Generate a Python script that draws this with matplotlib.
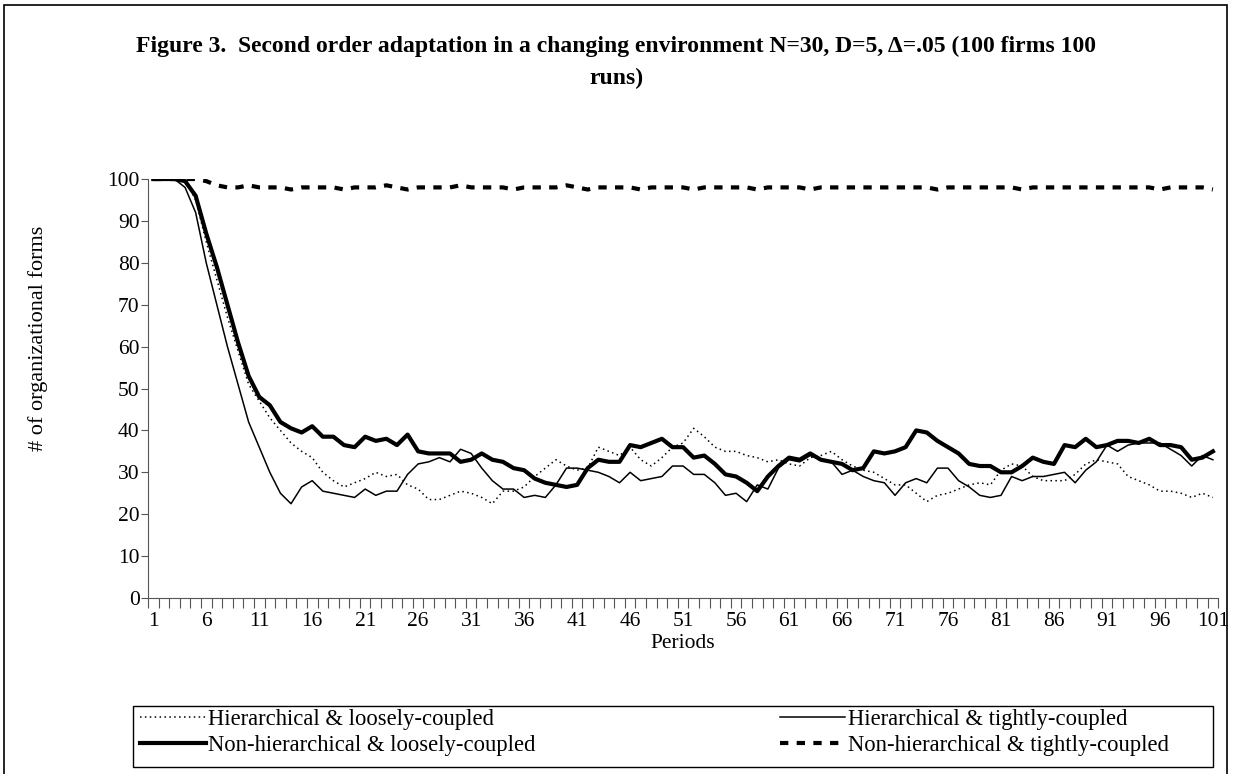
import numpy as np
import matplotlib.pyplot as plt
from matplotlib.patches import Rectangle

plt.rcParams['font.family'] = ['Liberation Serif', 'DejaVu Serif']

periods = np.arange(1, 102)

hier_loose = [100, 100, 100, 100, 95, 85, 76, 67, 59, 51,
              47, 43, 40, 37, 35, 33.5, 30, 28, 26.5, 27.5,
              28.5, 30, 29, 29.5, 27, 26, 23.5, 23.5, 24.5, 25.5,
              25, 24, 22.5, 25.5, 25.5, 26.5, 29, 31, 33, 31.5,
              30.5, 31, 36, 35, 34, 36, 33, 31.5, 33.5, 36,
              37, 40.5, 38.5, 36, 35, 35, 34, 33.5, 32.5, 33,
              32, 31.5, 33.5, 34, 35, 33, 31.5, 30.5, 30, 28.5,
              27, 27, 25, 23, 24.5, 25, 26, 27, 27.5, 27,
              30.5, 32, 31.5, 29, 28, 28, 28, 29.5, 32, 33,
              32.5, 32, 29, 28, 27, 25.5, 25.5, 25, 24, 25,
              24]

hier_tight = [100, 100, 100, 98, 92, 80, 70, 60, 51, 42,
              36, 30, 25, 22.5, 26.5, 28, 25.5, 25, 24.5, 24,
              26, 24.5, 25.5, 25.5, 29.5, 32, 32.5, 33.5, 32.5, 35.5,
              34.5, 31, 28, 26, 26, 24, 24.5, 24, 27, 31,
              31, 30.5, 30, 29, 27.5, 30, 28, 28.5, 29, 31.5,
              31.5, 29.5, 29.5, 27.5, 24.5, 25, 23, 27, 26, 31,
              33, 32.5, 34, 33, 32.5, 29.5, 30.5, 29, 28, 27.5,
              24.5, 27.5, 28.5, 27.5, 31, 31, 28, 26.5, 24.5, 24,
              24.5, 29, 28, 29, 29, 29.5, 30, 27.5, 30.5, 32.5,
              36.5, 35, 36.5, 37, 37, 37, 35.5, 34, 31.5, 34,
              33]

nonhier_loose = [100, 100, 100, 99.5, 96, 87, 79, 70, 61, 53,
                 48, 46, 42, 40.5, 39.5, 41, 38.5, 38.5, 36.5, 36,
                 38.5, 37.5, 38, 36.5, 39, 35, 34.5, 34.5, 34.5, 32.5,
                 33, 34.5, 33, 32.5, 31, 30.5, 28.5, 27.5, 27, 26.5,
                 27, 31, 33, 32.5, 32.5, 36.5, 36, 37, 38, 36,
                 36, 33.5, 34, 32, 29.5, 29, 27.5, 25.5, 29, 31.5,
                 33.5, 33, 34.5, 33, 32.5, 32, 30.5, 31, 35, 34.5,
                 35, 36, 40, 39.5, 37.5, 36, 34.5, 32, 31.5, 31.5,
                 30, 30, 31.5, 33.5, 32.5, 32, 36.5, 36, 38, 36,
                 36.5, 37.5, 37.5, 37, 38, 36.5, 36.5, 36, 33, 33.5,
                 35]

nonhier_tight = [100, 100, 100, 100, 100, 99.5, 98.5, 98, 98, 98.5,
                 98, 98, 98, 97.5, 98, 98, 98, 98, 97.5, 98,
                 98, 98, 98.5, 98, 97.5, 98, 98, 98, 98, 98.5,
                 98, 98, 98, 98, 97.5, 98, 98, 98, 98, 98.5,
                 98, 97.5, 98, 98, 98, 98, 97.5, 98, 98, 98,
                 98, 97.5, 98, 98, 98, 98, 98, 97.5, 98, 98,
                 98, 98, 97.5, 98, 98, 98, 98, 98, 98, 98,
                 98, 98, 98, 98, 97.5, 98, 98, 98, 98, 98,
                 98, 98, 97.5, 98, 98, 98, 98, 98, 98, 98,
                 98, 98, 98, 98, 98, 97.5, 98, 98, 98, 98,
                 97.5]

labels = ['Hierarchical & loosely-coupled', 'Hierarchical & tightly-coupled',
          'Non-hierarchical & loosely-coupled', 'Non-hierarchical & tightly-coupled']

fig = plt.figure(figsize=(12.33, 7.74), dpi=100)
ax = fig.add_axes([0.120, 0.2274, 0.868, 0.5413])

l1, = ax.plot(periods, hier_loose, color='k', lw=1.1, ls=(0, (1, 2.2)))
l2, = ax.plot(periods, hier_tight, color='k', lw=1.1, ls='-')
l3, = ax.plot(periods, nonhier_loose, color='k', lw=3.0, ls='-')
l4, = ax.plot(periods, nonhier_tight, color='k', lw=3.0, ls=(0, (2, 2)))

ax.set_xlim(0.5, 101.5)
ax.set_ylim(0, 100)
ax.set_yticks(np.arange(0, 101, 10))
ax.set_xticks(np.arange(1, 102, 5))
ax.set_xticks(np.arange(0.5, 102, 1), minor=True)
ax.tick_params(axis='x', which='major', length=0, labelsize=15.5, pad=10)
ax.tick_params(axis='x', which='minor', length=7, width=0.8, direction='out', color='#555555')
ax.tick_params(axis='y', length=5, width=0.8, labelsize=15.5, pad=1, color='#555555')
for s in ['top', 'right']:
    ax.spines[s].set_visible(False)
ax.spines['left'].set_color('#555555')
ax.spines['bottom'].set_color('#555555')

ax.set_xlabel('Periods', fontsize=15.5, labelpad=2)
fig.text(0.031, 0.563, '# of organizational forms', rotation=90, ha='center', va='center', fontsize=16)

fig.text(0.5, 0.940, 'Figure 3.  Second order adaptation in a changing environment N=30, D=5, \u0394=.05 (100 firms 100',
         ha='center', va='center', fontsize=17, fontweight='bold')
fig.text(0.5, 0.898, 'runs)', ha='center', va='center', fontsize=17, fontweight='bold')

leg = fig.legend([l1, l3, l2, l4], [labels[0], labels[2], labels[1], labels[3]],
                 ncol=2, loc='upper left', bbox_to_anchor=(140 / 1233, 1 - 709 / 774),
                 fontsize=16.3, frameon=False, handlelength=2.9, handletextpad=0.1,
                 borderpad=0, borderaxespad=0, labelspacing=0.2, columnspacing=10.8)

fig.patches.append(Rectangle((133 / 1233, 1 - 767 / 774), 1080 / 1233, 61 / 774,
                             transform=fig.transFigure, fill=False, edgecolor='k', lw=1.0))
fig.patches.append(Rectangle((0.003, -0.01), 0.992, 1.003, transform=fig.transFigure,
                             fill=False, edgecolor='k', lw=1.2))

fig.savefig('out.png', dpi=100)
